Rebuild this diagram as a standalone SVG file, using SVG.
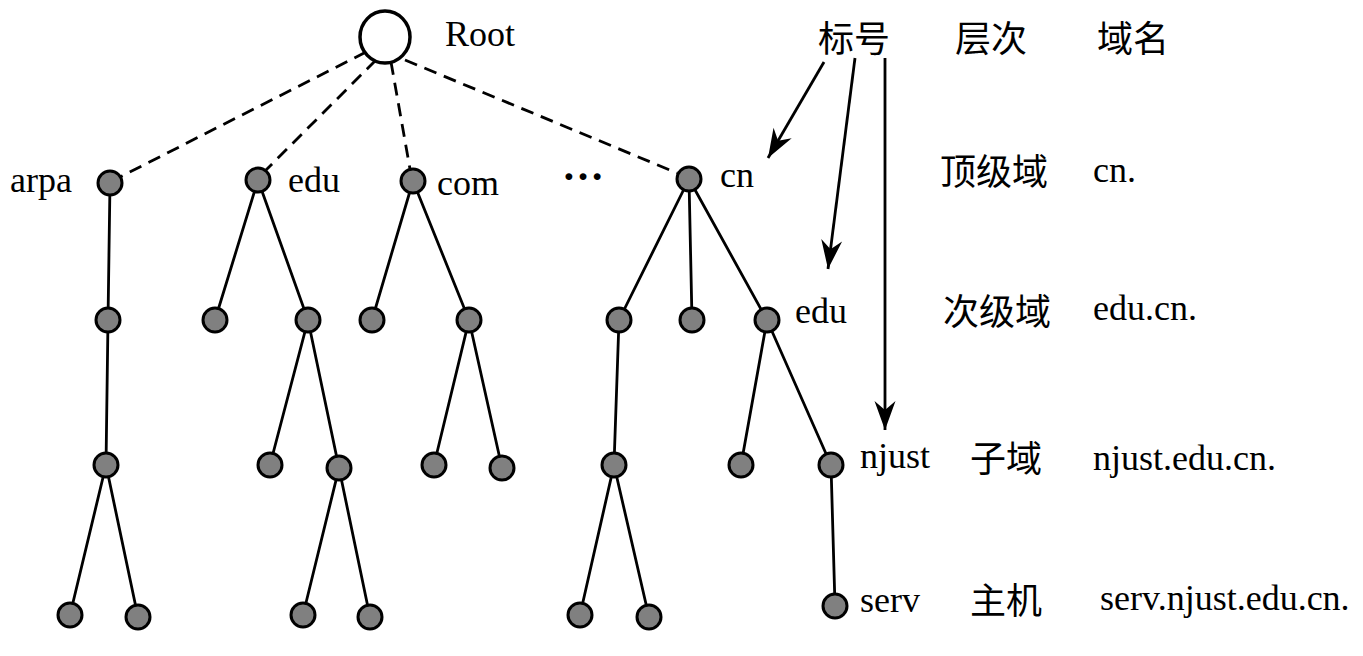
<svg xmlns="http://www.w3.org/2000/svg" width="1363" height="656" viewBox="0 0 1363 656">
<style>
.t{font-family:"Liberation Serif","Times New Roman",serif;font-size:36px;fill:#000}
.c{font-family:"Liberation Serif","Noto Sans CJK SC",serif;font-size:36px;fill:#000}
.n{fill:#808080;stroke:#000;stroke-width:3}
.e{stroke:#000;stroke-width:2.8;fill:none}
.d{stroke:#000;stroke-width:2.8;fill:none;stroke-dasharray:13 8}
.a{stroke:#000;stroke-width:2.8;fill:none;marker-end:url(#ah)}
</style>
<defs>
<marker id="ah" viewBox="-30 -12 32 24" refX="0" refY="0" markerWidth="32" markerHeight="24" markerUnits="userSpaceOnUse" orient="auto">
<path d="M0,0 L-29,-10.5 L-20,0 L-29,10.5 Z" fill="#000"/>
</marker>
</defs>
<rect width="1363" height="656" fill="#fff"/>
<g id="connectors">
<line class="d" x1="366" y1="52" x2="120" y2="177"/>
<line class="d" x1="376" y1="60" x2="266" y2="170"/>
<line class="d" x1="391" y1="62" x2="410" y2="169"/>
<line class="d" x1="405" y1="60" x2="677" y2="173"/>
<path class="e" d="M110,183 L108,320 L106,465 M106,465 L70,615 M106,465 L138,617"/>
<path class="e" d="M258,180 L215,320 M258,180 L308,320 L270,465 M308,320 L339,468 L303,615 M339,468 L370,617"/>
<path class="e" d="M413,181 L372,320 M413,181 L469,320 L434,465 M469,320 L502,468"/>
<path class="e" d="M689,179 L619,320 L614,465 L580,615 M614,465 L649,617 M689,179 L692,320 M689,179 L767,320 L741,465 M767,320 L831,465 L835,606"/>
<line class="a" x1="824" y1="62" x2="768" y2="158"/>
<line class="a" x1="855" y1="58" x2="828" y2="269"/>
<line class="a" x1="885" y1="58" x2="885" y2="430"/>
</g>
<g id="root"><ellipse cx="385" cy="37" rx="25" ry="26" fill="#fff" stroke="#000" stroke-width="3.5"/><text class="t" x="445" y="46">Root</text></g>
<g id="arpa"><circle class="n" cx="110" cy="183" r="12"/><text class="t" x="10" y="192">arpa</text></g>
<g id="edu"><circle class="n" cx="258" cy="180" r="12"/><text class="t" x="288" y="192">edu</text></g>
<g id="com"><circle class="n" cx="413" cy="181" r="12"/><text class="t" x="437" y="195">com</text></g>
<g id="dots"><text class="t" x="562" y="180" style="font-size:42px;font-weight:bold">…</text></g>
<g id="cn"><circle class="n" cx="689" cy="179" r="12"/><text class="t" x="720" y="187">cn</text></g>
<g id="l2">
<circle class="n" cx="108" cy="320" r="12"/>
<circle class="n" cx="215" cy="320" r="12"/>
<circle class="n" cx="308" cy="320" r="12"/>
<circle class="n" cx="372" cy="320" r="12"/>
<circle class="n" cx="469" cy="320" r="12"/>
<circle class="n" cx="619" cy="320" r="12"/>
<circle class="n" cx="692" cy="320" r="12"/>
</g>
<g id="edu-cn"><circle class="n" cx="767" cy="320" r="12"/><text class="t" x="795" y="323">edu</text></g>
<g id="l3">
<circle class="n" cx="106" cy="465" r="12"/>
<circle class="n" cx="270" cy="465" r="12"/>
<circle class="n" cx="339" cy="468" r="12"/>
<circle class="n" cx="434" cy="465" r="12"/>
<circle class="n" cx="502" cy="468" r="12"/>
<circle class="n" cx="614" cy="465" r="12"/>
<circle class="n" cx="741" cy="465" r="12"/>
</g>
<g id="njust"><circle class="n" cx="831" cy="465" r="12"/><text class="t" x="860" y="468">njust</text></g>
<g id="l4">
<circle class="n" cx="70" cy="615" r="12"/>
<circle class="n" cx="138" cy="617" r="12"/>
<circle class="n" cx="303" cy="615" r="12"/>
<circle class="n" cx="370" cy="617" r="12"/>
<circle class="n" cx="580" cy="615" r="12"/>
<circle class="n" cx="649" cy="617" r="12"/>
</g>
<g id="serv"><circle class="n" cx="835" cy="606" r="12"/><text class="t" x="860" y="612">serv</text></g>
<g id="legend">
<text class="c" x="818" y="52">标号</text>
<text class="c" x="955" y="52">层次</text>
<text class="c" x="1097" y="52">域名</text>
<text class="c" x="940" y="185">顶级域</text>
<text class="t" x="1093" y="182">cn.</text>
<text class="c" x="943" y="325">次级域</text>
<text class="t" x="1093" y="320">edu.cn.</text>
<text class="c" x="970" y="472">子域</text>
<text class="t" x="1093" y="470">njust.edu.cn.</text>
<text class="c" x="970" y="614">主机</text>
<text class="t" x="1100" y="610">serv.njust.edu.cn.</text>
</g>
</svg>
